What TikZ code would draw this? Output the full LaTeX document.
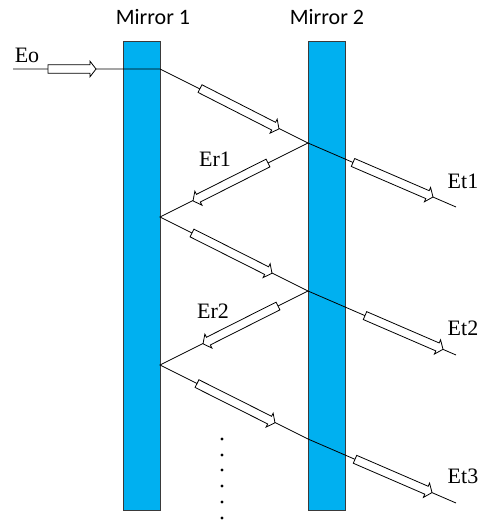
\documentclass[tikz,border=0pt]{standalone}
\usepackage{fontspec}
\setmainfont{Liberation Serif}
\newfontfamily\calfont{Carlito}
\usetikzlibrary{calc}
\definecolor{mirrorblue}{HTML}{00B0F0}
\definecolor{mirroredge}{HTML}{3A3A3A}
\tikzset{
  mirror/.style={fill=mirrorblue, draw=mirroredge, line width=1pt},
  ray/.style={draw=black, line width=0.8pt},
  arrowbody/.style={draw=black, fill=white, line width=0.8pt, line join=miter},
  elabel/.style={font=\fontsize{22}{22}\selectfont, inner sep=0pt},
  mlabel/.style={font=\calfont\fontsize{22}{22}\selectfont, inner sep=0pt},
  dotmark/.style={fill=black, draw=none}
}
\newcommand\blockarrow[4]{%
  \pgfmathsetmacro\barang{atan2(#2-#4,#3-#1)}%
  \pgfmathsetmacro\barlen{veclen(#3-#1,#4-#2)}%
  \draw[arrowbody, shift={(#1,#2)}, rotate=\barang]
    (0,-4.3) -- (\barlen-6,-4.3) -- (\barlen-6,-7.8) -- (\barlen,0) -- (\barlen-6,7.8) -- (\barlen-6,4.3) -- (0,4.3) -- cycle;}
\begin{document}
\begin{tikzpicture}[x=1pt,y=-1pt]
\useasboundingbox (0,0) rectangle (482,522);
% mirrors
\draw[mirror] (123,41) rectangle (160,510);
\draw[mirror] (308,41) rectangle (345,510);
\node[mlabel] (m1) at (153,17) {Mirror 1};
\node[mlabel] (m2) at (327,17) {Mirror 2};
% ray points
\coordinate (s0) at (13,69);
\coordinate (a1) at (160,69);
\coordinate (b1) at (308,143);
\coordinate (c1) at (345,159);
\coordinate (d1) at (456,207);
\coordinate (a2) at (160,217);
\coordinate (b2) at (308,291);
\coordinate (c2) at (345,307);
\coordinate (d2) at (456,355);
\coordinate (a3) at (160,365);
\coordinate (b3) at (308,439);
\coordinate (c3) at (345,455);
\coordinate (d3) at (456,503);
% rays
\draw[ray] (s0) -- (a1) -- (b1) -- (c1) -- (d1);
\draw[ray] (b1) -- (a2) -- (b2) -- (c2) -- (d2);
\draw[ray] (b2) -- (a3) -- (b3) -- (c3) -- (d3);
% hollow arrows
\blockarrow{48}{69}{96}{69}
\blockarrow{200}{88.6}{279}{128.9}
\blockarrow{268}{163}{193}{200.9}
\blockarrow{192}{233}{272}{273.3}
\blockarrow{353}{162.5}{433}{197}
\blockarrow{278}{306}{203}{343.8}
\blockarrow{197}{383.6}{275}{422.8}
\blockarrow{365}{315.6}{443}{349.3}
\blockarrow{355}{459.3}{432}{492.6}
% labels
\node[elabel] (eo) at (27,55) {Eo};
\node[elabel] (er1) at (215,159) {Er1};
\node[elabel] (et1) at (463,181) {Et1};
\node[elabel] (er2) at (213,311) {Er2};
\node[elabel] (et2) at (463,328) {Et2};
\node[elabel] (et3) at (463,476) {Et3};
% dots
\foreach \yy in {439,455,470,486,502,518}
  \fill[dotmark] (222,\yy) circle (1.6);
\end{tikzpicture}
\end{document}
